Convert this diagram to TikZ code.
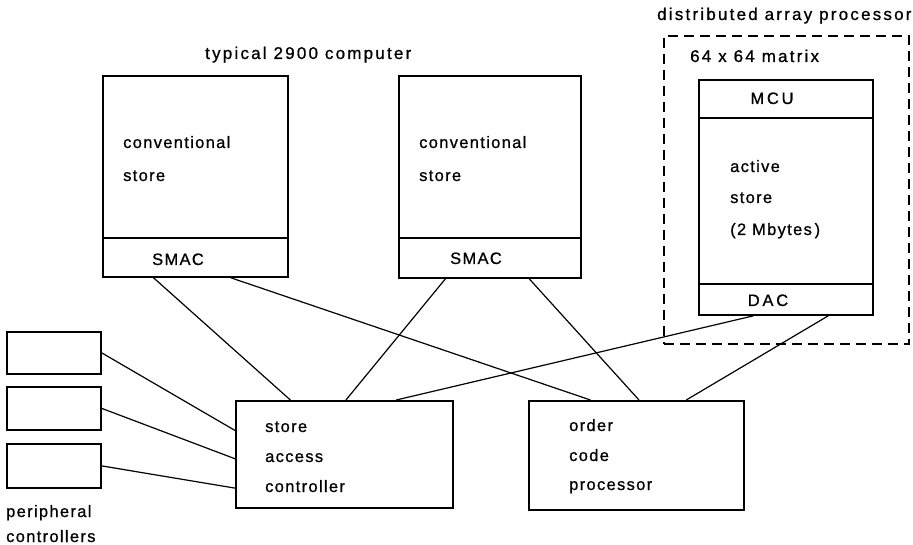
\documentclass[tikz,border=0pt]{standalone}
\usepackage{fontspec}
\setmainfont{Liberation Sans}[LetterSpace=8, FakeBold=0.8]
\usetikzlibrary{calc}
\begin{document}
\begin{tikzpicture}[x=1pt,y=-1pt,
  box/.style={draw, line width=1.8pt, rectangle, inner sep=0pt, anchor=north west},
  wire/.style={line width=1.2pt},
  lbl/.style={font=\fontsize{16.5}{19}\selectfont, inner sep=0pt, anchor=base west},
  clbl/.style={font=\fontsize{16.5}{19}\selectfont, inner sep=0pt, anchor=base},
  ttl/.style={font=\fontsize{17}{20}\selectfont\addfontfeatures{LetterSpace=13}, inner sep=0pt, anchor=base west}]
\useasboundingbox (0,0) rectangle (913,545);

% two typical 2900 computers: conventional store over SMAC
\node[box, minimum width=185pt, minimum height=162pt] (storeA) at (102,75) {};
\node[box, minimum width=185pt, minimum height=39pt]  (smacA)  at (102,237) {};
\node[box, minimum width=182pt, minimum height=162pt] (storeB) at (398,75) {};
\node[box, minimum width=182pt, minimum height=40pt]  (smacB)  at (398,237) {};

\node[lbl] (convA) at (123,148) {conventional};
\node[lbl] (stA)   at (123,181) {store};
\node[clbl] (smacAt) at (178,265) {SMAC};
\node[lbl] (convB) at (419,148) {conventional};
\node[lbl] (stB)   at (419,181) {store};
\node[clbl] (smacBt) at (476,264) {SMAC};
\node[ttl] (title) at (205,59) {typical 2900 computer};

% distributed array processor
\node[box, dashed, dash pattern=on 10pt off 6pt, minimum width=245pt, minimum height=308pt] (dap) at (663,35) {};
\node[ttl] (daptitle) at (657,20) {distributed array processor};
\node[ttl] (matrix) at (690,62) {64 x 64 matrix};
\node[box, minimum width=174pt, minimum height=38pt]  (mcu)    at (698,79) {};
\node[box, minimum width=174pt, minimum height=166pt] (active) at (698,117) {};
\node[box, minimum width=174pt, minimum height=31pt]  (dac)    at (698,283) {};
\node[clbl] (mcut) at (772,104) {M\,C\,U};
\node[clbl] (dact) at (768,306) {D\,A\,C};
\node[lbl] (act1) at (730,172) {active};
\node[lbl] (act2) at (730,203) {store};
\node[lbl] (act3) at (730,235) {(2 Mbytes\,)};

% store access controller and order code processor
\node[box, minimum width=217pt, minimum height=107pt] (sac) at (235,400) {};
\node[box, minimum width=215pt, minimum height=109pt] (ocp) at (528,400) {};
\node[lbl] (sac1) at (265,432) {store};
\node[lbl] (sac2) at (265,462) {access};
\node[lbl] (sac3) at (265,492) {controller};
\node[lbl] (ocp1) at (569,431) {order};
\node[lbl] (ocp2) at (569,461) {code};
\node[lbl] (ocp3) at (569,490) {processor};

% peripheral controllers
\node[box, minimum width=94pt, minimum height=42pt] (p1) at (6,331) {};
\node[box, minimum width=94pt, minimum height=43pt] (p2) at (6,386) {};
\node[box, minimum width=94pt, minimum height=44pt] (p3) at (6,443) {};
\node[lbl] (per1) at (6,517) {peripheral};
\node[lbl] (per2) at (6,542) {controllers};

% connections
\draw[wire] (p1.east) -- ($(sac.north west)!0.28!(sac.south west)$);
\draw[wire] (p2.east) -- ($(sac.north west)!0.54!(sac.south west)$);
\draw[wire] (p3.east) -- ($(sac.north west)!0.81!(sac.south west)$);

\draw[wire] ($(smacA.south west)!0.276!(smacA.south east)$) -- ($(sac.north west)!0.253!(sac.north east)$);
\draw[wire] ($(smacA.south west)!0.69!(smacA.south east)$) -- ($(ocp.north west)!0.288!(ocp.north east)$);
\draw[wire] ($(smacB.south west)!0.258!(smacB.south east)$) -- ($(sac.north west)!0.507!(sac.north east)$);
\draw[wire] ($(smacB.south west)!0.714!(smacB.south east)$) -- ($(ocp.north west)!0.512!(ocp.north east)$);
\draw[wire] ($(dac.south west)!0.316!(dac.south east)$) -- ($(sac.north west)!0.737!(sac.north east)$);
\draw[wire] ($(dac.south west)!0.741!(dac.south east)$) -- ($(ocp.north west)!0.73!(ocp.north east)$);
\end{tikzpicture}
\end{document}
